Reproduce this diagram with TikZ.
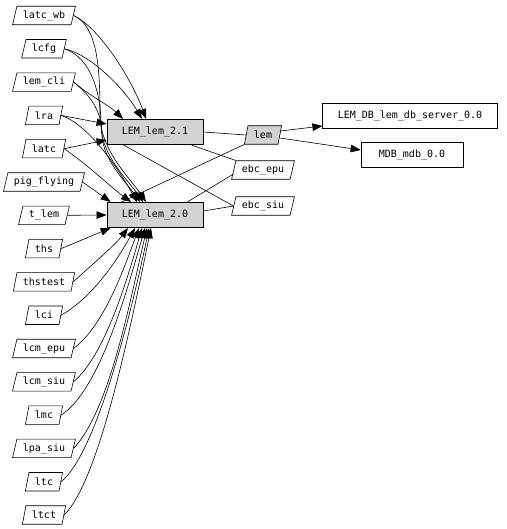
\documentclass[tikz,border=0pt]{standalone}
\usepackage{fontspec}
\setmainfont{DejaVu Sans Mono}
\usetikzlibrary{arrows.meta,shapes.geometric}
\definecolor{boxgray}{RGB}{211,211,211}

\begin{document}
\begin{tikzpicture}[x=1pt,y=-1pt,>={Triangle[length=10pt,width=7.5pt]},font=\fontsize{10}{12}\selectfont,line width=0.6pt]
\tikzstyle{pg}=[draw,trapezium,trapezium left angle=70,trapezium right angle=110,trapezium stretches=true,minimum height=18.5pt,inner xsep=6pt,inner ysep=1pt]
\tikzstyle{b}=[draw,minimum height=25.5pt,inner xsep=15pt]
\useasboundingbox (0,0) rectangle (506,529);
\foreach \n/\t [count=\i from 0] in {latcwb/latc\_wb,lcfg/lcfg,lemcli/lem\_cli,lra/lra,latc/latc,pigflying/pig\_flying,tlem/t\_lem,ths/ths,thstest/thstest,lci/lci,lcmepu/lcm\_epu,lcmsiu/lcm\_siu,lmc/lmc,lpasiu/lpa\_siu,ltc/ltc,ltct/ltct} \node[pg] (\n) at (44,15.5+33.3*\i) {\t};
\node[b,fill=boxgray] (lem21) at (155,132) {LEM\_lem\_2.1};
\node[b,fill=boxgray] (lem20) at (155,215) {LEM\_lem\_2.0};
\node[pg,fill=boxgray] (lem) at (263,135) {lem};
\node[pg] (ebcepu) at (263,170) {ebc\_epu};
\node[pg] (ebcsiu) at (263,206) {ebc\_siu};
\node[b] (lemdb) at (410,116) {LEM\_DB\_lem\_db\_server\_0.0};
\node[b,minimum width=102pt] (mdb) at (412,155) {MDB\_mdb\_0.0};
\draw[->] (latcwb.east) .. controls (100,28) and (132,80) .. ([xshift=-9pt]lem21.north);
\draw[->] (latcwb.east) .. controls (98,26) and (100,70) .. (100,115) .. controls (100,150) and (130,178) .. ([xshift=-9pt]lem20.north);
\draw[->] (lcfg.east) .. controls (92,55) and (125,90) .. ([xshift=-13pt]lem21.north);
\draw[->] (lcfg.east) .. controls (92,58) and (101,95) .. (101,125) .. controls (101,155) and (128,180) .. ([xshift=-12pt]lem20.north);
\draw[->] (lemcli.east) .. controls (90,96) and (110,106) .. ([xshift=-32pt]lem21.north);
\draw[->] (lemcli.east) .. controls (94,98) and (102,115) .. (102,135) .. controls (103,160) and (126,182) .. ([xshift=-15pt]lem20.north);
\draw[->] (lra.east) -- ([yshift=8pt]lem21.west);
\draw[->] (lra.east) .. controls (88,124) and (118,168) .. ([xshift=-18pt]lem20.north);
\draw[->] (latc.east) -- ([yshift=-8pt]lem21.west);
\draw[->] (latc.east) .. controls (88,165) and (112,188) .. ([xshift=-24pt]lem20.north);
\draw[->] (pigflying.east) -- ([xshift=4pt]lem20.north west);
\draw[->] (tlem.east) -- (lem20.west);
\draw[->] (ths.east) .. controls (82,240) and (96,234) .. ([xshift=4pt]lem20.south west);
\draw[->] (thstest.east) .. controls (95,262) and (115,245) .. ([xshift=-27pt]lem20.south);
\draw[->] (lci.east) .. controls (95,296) and (120,255) .. ([xshift=-20pt]lem20.south);
\draw[->] (lcmepu.east) .. controls (105,325) and (125,265) .. ([xshift=-16pt]lem20.south);
\draw[->] (lcmsiu.east) .. controls (105,355) and (127,280) .. ([xshift=-13pt]lem20.south);
\draw[->] (lmc.east) .. controls (100,390) and (127,290) .. ([xshift=-10pt]lem20.south);
\draw[->] (lpasiu.east) .. controls (110,410) and (130,300) .. ([xshift=-8pt]lem20.south);
\draw[->] (ltc.east) .. controls (95,455) and (130,320) .. ([xshift=-6pt]lem20.south);
\draw[->] (ltct.east) .. controls (100,480) and (132,320) .. ([xshift=-4pt]lem20.south);
\draw (lem21.east) -- (lem.west);
\draw ([xshift=-12pt]lem21.south east) -- (ebcepu.top left corner);
\draw ([xshift=17pt]lem21.south west) -- (ebcsiu.left side);
\draw ([xshift=15pt]lem20.north west) -- (lem.bottom left corner);
\draw ([xshift=-16pt]lem20.north east) -- ([yshift=-4pt]ebcepu.left side);
\draw ([yshift=4pt]lem20.east) -- (ebcsiu.left side);
\draw[->] ([yshift=4pt]lem.east) -- ([yshift=-10pt]lemdb.west);
\draw[->] ([yshift=-3pt]lem.east) -- ([yshift=5pt]mdb.west);
\end{tikzpicture}
\end{document}
